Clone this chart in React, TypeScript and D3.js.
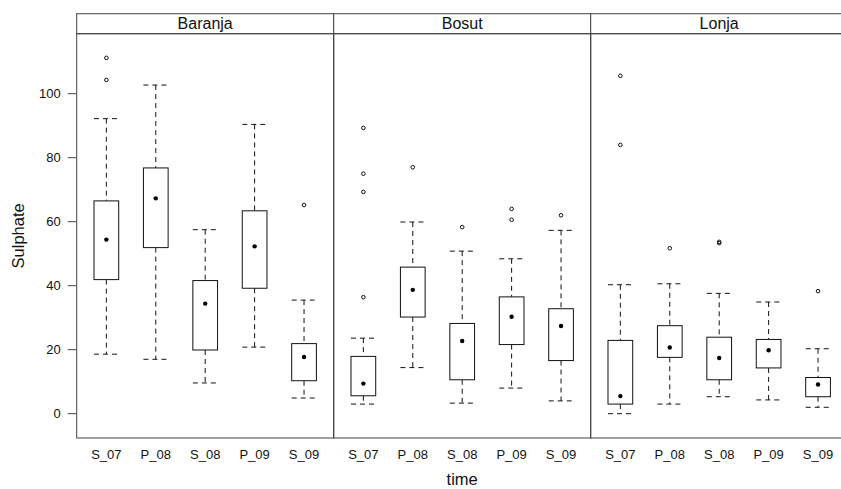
import React from 'react';
import * as d3 from 'd3';

// sampling campaigns on the x axis
const times = ['S_07', 'P_08', 'S_08', 'P_09', 'S_09'];
const sites = ['Baranja', 'Bosut', 'Lonja'];

// [lower whisker, Q1, median, Q3, upper whisker] per campaign
const baranja = [
  [18.6, 41.9, 54.4, 66.5, 92.2],
  [17.0, 51.9, 67.3, 76.8, 102.7],
  [9.6, 19.9, 34.4, 41.6, 57.5],
  [20.8, 39.2, 52.3, 63.4, 90.4],
  [4.9, 10.3, 17.7, 21.9, 35.5],
];
const bosut = [
  [3.0, 5.6, 9.4, 17.9, 23.6],
  [14.4, 30.2, 38.7, 45.8, 59.9],
  [3.3, 10.6, 22.7, 28.2, 50.8],
  [8.0, 21.6, 30.3, 36.5, 48.4],
  [4.0, 16.6, 27.4, 32.8, 57.3],
];
const lonja = [
  [0.0, 3.0, 5.5, 22.9, 40.3],
  [3.0, 17.6, 20.7, 27.5, 40.6],
  [5.3, 10.6, 17.4, 23.9, 37.6],
  [4.3, 14.3, 19.8, 23.2, 34.9],
  [2.0, 5.3, 9.1, 11.3, 20.3],
];

// outlying points per campaign
const baranjaOut = [[111.2, 104.3], [], [], [], [65.2]];
const bosutOut = [[89.3, 75.0, 69.3, 36.4], [77.0], [58.3], [64.0, 60.6], [62.0]];
const lonjaOut = [[105.6, 84.0], [51.7], [53.3, 53.7], [], [38.3]];

const yTicks = [0, 20, 40, 60, 80, 100];

const width = 841;
const height = 489;
const font = 'Arial, "Liberation Sans", sans-serif';

const App = () => {
  const left = 76.7;
  const panelW = 257;
  const top = 13.7;
  const stripH = 20;
  const bottom = 438;

  const y = d3.scaleLinear().domain([-7.6, 118.75]).range([bottom, top + stripH]);

  const statsBySite = [baranja, bosut, lonja];
  const outBySite = [baranjaOut, bosutOut, lonjaOut];

  return (
    <svg
      width={width}
      height={height}
      style={{ position: 'absolute', left: 0, top: 0, background: '#fff' }}
      fontFamily={font}
    >
      {sites.map((site, si) => {
        const x0 = left + si * panelW;
        const x = d3
          .scalePoint<string>()
          .domain(times)
          .range([x0, x0 + panelW])
          .padding(0.6);
        const bw = x.step() * 0.5;
        return (
          <g key={site}>
            {/* strip */}
            <rect x={x0} y={top} width={panelW} height={stripH} fill="#fff" stroke="#444" />
            <text x={x0 + panelW / 2} y={top + stripH / 2} dy="0.36em" textAnchor="middle" fontSize={16} fill="#111">
              {site}
            </text>
            {/* panel */}
            <rect x={x0} y={top + stripH} width={panelW} height={bottom - top - stripH} fill="none" stroke="#444" />
            {times.map((t, i) => {
              const [lo, q1, med, q3, hi] = statsBySite[si][i];
              const cx = x(t) || 0;
              return (
                <g key={t}>
                  <line x1={cx} x2={cx} y1={y(hi)} y2={y(q3)} stroke="#111" strokeDasharray="5,4" />
                  <line x1={cx} x2={cx} y1={y(q1)} y2={y(lo)} stroke="#111" strokeDasharray="5,4" />
                  <line x1={cx - bw / 2} x2={cx + bw / 2} y1={y(hi)} y2={y(hi)} stroke="#111" strokeDasharray="5,4" />
                  <line x1={cx - bw / 2} x2={cx + bw / 2} y1={y(lo)} y2={y(lo)} stroke="#111" strokeDasharray="5,4" />
                  <rect x={cx - bw / 2} y={y(q3)} width={bw} height={y(q1) - y(q3)} fill="#fff" stroke="#111" />
                  <circle cx={cx} cy={y(med)} r={2.2} fill="#000" />
                  {outBySite[si][i].map((v, k) => (
                    <circle key={k} cx={cx} cy={y(v)} r={1.8} fill="none" stroke="#111" strokeWidth={1} />
                  ))}
                  <text x={cx} y={454} dy="0.36em" textAnchor="middle" fontSize={13} fill="#111">
                    {t}
                  </text>
                </g>
              );
            })}
          </g>
        );
      })}
      {/* y axis */}
      {yTicks.map((v) => (
        <g key={v}>
          <line x1={left - 9} x2={left} y1={y(v)} y2={y(v)} stroke="#444" />
          <text x={left - 16} y={y(v)} dy="0.36em" textAnchor="end" fontSize={13} fill="#111">
            {v}
          </text>
        </g>
      ))}
      <text
        transform={`translate(18,${(top + stripH + bottom) / 2}) rotate(-90)`}
        dy="0.36em"
        textAnchor="middle"
        fontSize={16.5}
        fill="#111"
      >
        Sulphate
      </text>
      <text x={left + (panelW * 3) / 2} y={485} textAnchor="middle" fontSize={16.5} fill="#111">
        time
      </text>
    </svg>
  );
};

export default App;
